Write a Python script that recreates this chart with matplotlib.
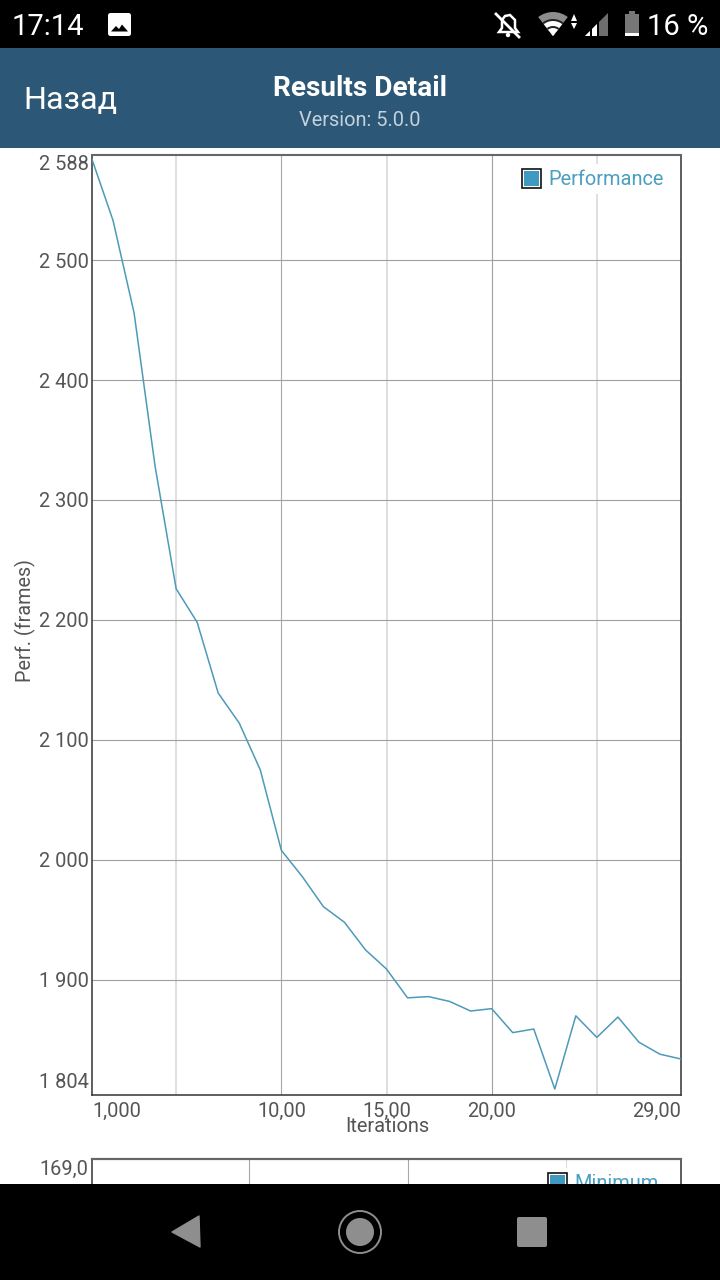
import numpy as np
import matplotlib
matplotlib.use('Agg')
import matplotlib.pyplot as plt
from matplotlib.legend_handler import HandlerPatch
from matplotlib.patches import Patch, Rectangle, Polygon, Circle, Wedge, FancyBboxPatch
from matplotlib.transforms import ScaledTranslation

plt.rcParams['font.family'] = ['Roboto', 'DejaVu Sans']

# values
iterations = [1, 2, 3, 4, 5, 6, 7, 8, 9, 10, 11, 12, 13, 14, 15,
              16, 17, 18, 19, 20, 21, 22, 23, 24, 25, 26, 27, 28, 29]
performance = [2584, 2533, 2456, 2328, 2226, 2198, 2139, 2114, 2075, 2008,
               1986, 1961, 1948, 1925, 1909, 1885, 1886, 1882, 1874, 1876,
               1856, 1859, 1809, 1870, 1852, 1869, 1848, 1838, 1834]
y_ticks = [1804, 1900, 2000, 2100, 2200, 2300, 2400, 2500, 2588]
y_labels = ['1 804', '1 900', '2 000', '2 100', '2 200', '2 300', '2 400', '2 500', '2 588']
x_ticks = [1, 10, 15, 20, 29]
x_labels = ['1,000', '10,00', '15,00', '20,00', '29,00']
x_grid = [5, 10, 15, 20, 25]
x_grid_colors = ['#dcdcdc', '#a8a8a8', '#dcdcdc', '#a0a0a0', '#dcdcdc']
x_grid_widths = [1.3, 0.8, 1.3, 0.8, 1.3]
y_grid = [1900, 2000, 2100, 2200, 2300, 2400, 2500]

W, H = 720, 1280
LINE = '#4d9ab8'
FILL = '#3f99c0'
LEGEND_TEXT = '#4b9fc0'
TICK = '#555555'
HEAD = '#2c5776'


class BoxHandler(HandlerPatch):
    # black outline, white gap, filled square
    def create_artists(self, legend, orig, xd, yd, width, height, fontsize, trans):
        outer = Rectangle((-xd, -yd), width, height, fc='white', ec='#111111', lw=1.2, transform=trans)
        inner = Rectangle((-xd + 1.5, -yd + 1.5), width - 3, height - 3, fc=FILL, ec='none', transform=trans)
        return [outer, inner]


def px_axes(fig, left, top, right, bottom):
    return fig.add_axes([left / W, 1 - bottom / H, (right - left) / W, (bottom - top) / H])


def add_legend(ax, label, anchor):
    h = Patch(label=label)
    leg = ax.legend(handles=[h], handler_map={h: BoxHandler()},
                    loc='upper right', bbox_to_anchor=anchor, bbox_transform=fig.transFigure,
                    frameon=True, framealpha=1, facecolor='white', edgecolor='none', fancybox=False,
                    fontsize=14.4, handlelength=0.95, handleheight=1.09, handletextpad=0.4,
                    borderpad=0.25, borderaxespad=0)
    leg.get_texts()[0].set_color(LEGEND_TEXT)


fig = plt.figure(figsize=(7.2, 12.8), dpi=100, facecolor='white')

# main chart
ax = px_axes(fig, 92, 154.5, 681, 1095)
for x, c, lw in zip(x_grid, x_grid_colors, x_grid_widths):
    ax.axvline(x, color=c, lw=lw, zorder=1)
for y in y_grid:
    ax.axhline(y, color='#a0a0a0', lw=0.8, zorder=1)
ax.plot(iterations, performance, color=LINE, lw=1.1, zorder=3)
ax.set_xlim(1, 29)
ax.set_ylim(1804, 2588)
ax.set_yticks(y_ticks, y_labels)
ax.set_xticks(x_ticks, x_labels)
ax.tick_params(length=0, labelsize=14.4, labelcolor=TICK, pad=2)
ax.tick_params(axis='x', pad=5)
labs = ax.get_xticklabels()
labs[0].set_ha('left')
labs[-1].set_ha('right')
labs = ax.get_yticklabels()
labs[0].set_va('bottom')
labs[0].set_transform(labs[0].get_transform() + ScaledTranslation(0, 3 / 100, fig.dpi_scale_trans))
labs[-1].set_va('top')
for s in ax.spines.values():
    s.set_color('#333333')
    s.set_linewidth(1.1)
ax.spines['top'].set_color('#666666')
ax.spines['top'].set_linewidth(1.5)
add_legend(ax, 'Performance', (669 / W, 1 - 164 / H))
fig.text(387 / W, 1 - 1127 / H, 'Iterations', ha='center', va='center', fontsize=14.4, color=TICK)
fig.text(25 / W, 1 - 620.5 / H, 'Perf. (frames)', ha='center', va='center', rotation=90,
         fontsize=14.2, color=TICK)

# second chart, cut off by the navigation bar
ax2 = px_axes(fig, 91.5, 1158.5, 681, 1400)
ax2.set_xlim(0, 590)
ax2.set_ylim(0, 1)
ax2.set_xticks([])
ax2.set_yticks([])
for x, c in zip([157.5, 316.5, 474.5], ['#a8a8a8', '#a8a8a8', '#dcdcdc']):
    ax2.axvline(x, color=c, lw=0.8, zorder=1)
for s in ax2.spines.values():
    s.set_color('#333333')
    s.set_linewidth(1.1)
ax2.spines['top'].set_color('#666666')
ax2.spines['top'].set_linewidth(1.6)
add_legend(ax2, 'Minimum', (664 / W, 1 - 1168 / H))
fig.text(88 / W, 1 - 1169 / H, '169,0', ha='right', va='center', fontsize=14.4, color=TICK)

# phone chrome on top, drawn in pixel coordinates
ui = fig.add_axes([0, 0, 1, 1], zorder=10)
ui.set_xlim(0, W)
ui.set_ylim(H, 0)
ui.axis('off')
ui.patch.set_alpha(0)
ui.add_patch(Rectangle((0, 0), W, 48, fc='black', ec='none'))
ui.add_patch(Rectangle((0, 48), W, 100, fc=HEAD, ec='none'))
ui.add_patch(Rectangle((0, 1184), W, 96, fc='black', ec='none'))

ui.text(12, 27, '17:14', color='white', fontsize=21, va='center', ha='left')
ui.text(708, 27, '16 %', color='white', fontsize=21, va='center', ha='right')
ui.text(23.5, 101, 'Назад', color='white', fontsize=23.2, va='center', ha='left')
ui.text(360, 88, 'Results Detail', color='white', fontsize=20.2, fontweight='bold', va='center', ha='center')
ui.text(360, 120, 'Version: 5.0.0', color='#c3d2dd', fontsize=14.4, va='center', ha='center')

# picture icon
ui.add_patch(FancyBboxPatch((108, 13), 23, 23, boxstyle='round,pad=0,rounding_size=2.5', fc='white', ec='none'))
ui.add_patch(Polygon([(111, 31.5), (116, 26), (119, 29), (122, 24.5), (128, 31.5)], fc='black', ec='none'))

# muted bell
ui.add_patch(Polygon([(499, 32), (502, 28), (502, 20), (505, 16), (510, 15), (515, 20), (515, 28), (518, 32)],
                     fc='none', ec='white', lw=1.8))
ui.add_patch(Circle((508, 35), 2.2, fc='white', ec='none'))
ui.plot([496, 519], [14, 37], color='white', lw=2)

# wifi, signal, battery
ui.add_patch(Wedge((553, 36), 24, 232, 308, fc='#8d8d8d', ec='none'))
ui.add_patch(Wedge((553, 36), 17, 232, 308, fc='#222222', ec='none'))
ui.add_patch(Wedge((553, 36), 15, 232, 308, fc='white', ec='none'))
ui.add_patch(Wedge((553, 36), 10, 232, 308, fc='#222222', ec='none'))
ui.add_patch(Wedge((553, 36), 8, 232, 308, fc='white', ec='none'))
ui.add_patch(Polygon([(571, 21), (574, 14), (577, 21)], fc='white', ec='none'))
ui.add_patch(Polygon([(571, 23), (574, 29), (577, 23)], fc='white', ec='none'))
ui.add_patch(Polygon([(585, 36), (608, 13), (608, 36)], fc='#6e6e6e', ec='none'))
ui.add_patch(Polygon([(585, 36), (597, 24), (597, 36)], fc='white', ec='none'))
ui.add_patch(Rectangle((590, 24), 1.5, 12, fc='black', ec='none'))
ui.add_patch(Rectangle((597, 18), 1.5, 18, fc='black', ec='none'))
ui.add_patch(Rectangle((625, 14), 14, 22, fc='#777777', ec='none'))
ui.add_patch(Rectangle((629, 11), 6, 3, fc='#777777', ec='none'))
ui.add_patch(Rectangle((625, 33), 14, 3, fc='white', ec='none'))

# navigation buttons
ui.add_patch(Polygon([(172, 1232), (199, 1216), (200, 1247)], fc='#8e8e8e', ec='#8e8e8e', lw=1, joinstyle='round'))
ui.add_patch(Circle((360, 1232), 21, fc='none', ec='#8e8e8e', lw=1.4))
ui.add_patch(Circle((360, 1232), 14, fc='#8e8e8e', ec='none'))
ui.add_patch(FancyBboxPatch((517, 1217), 30, 30, boxstyle='round,pad=0,rounding_size=2', fc='#8e8e8e', ec='none'))

fig.savefig('out.png', dpi=100, facecolor='white')
